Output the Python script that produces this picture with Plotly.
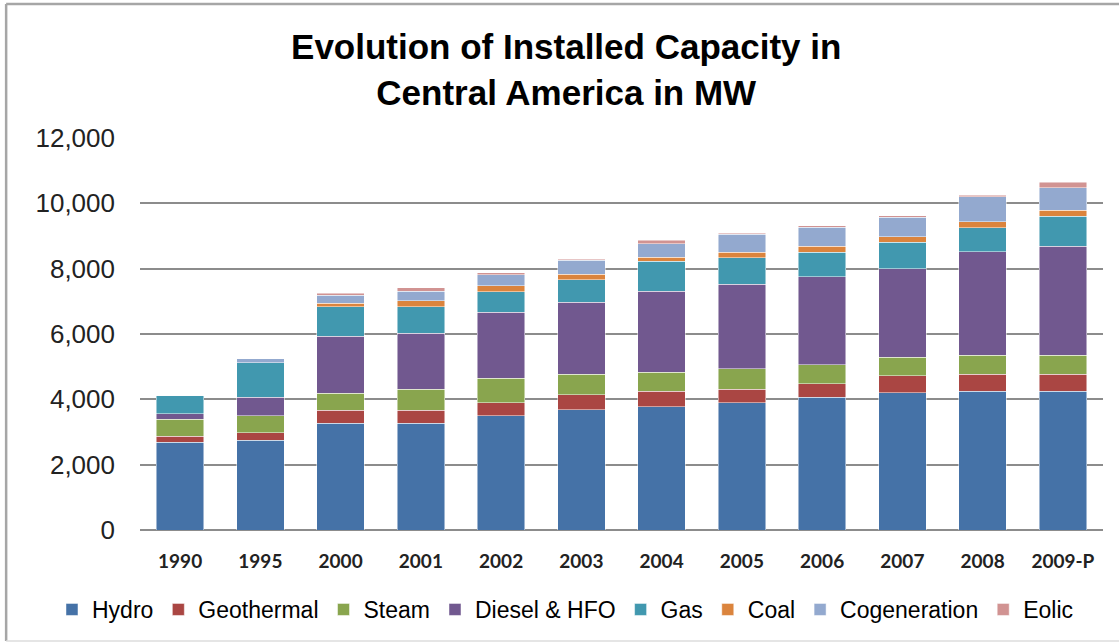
import plotly.graph_objects as go

years = ["1990", "1995", "2000", "2001", "2002", "2003", "2004", "2005", "2006", "2007", "2008", "2009-P"]
hydro = [2680, 2745, 3265, 3265, 3500, 3675, 3775, 3895, 4070, 4195, 4245, 4245]
geothermal = [185, 235, 405, 405, 395, 460, 480, 410, 405, 520, 520, 520]
steam = [520, 520, 520, 635, 755, 635, 570, 630, 580, 570, 580, 580]
diesel_hfo = [170, 570, 1735, 1725, 2010, 2195, 2480, 2590, 2705, 2715, 3170, 3345]
gas = [570, 1050, 905, 805, 640, 695, 920, 815, 745, 805, 745, 920]
coal = [0, 0, 115, 185, 175, 175, 125, 170, 175, 175, 175, 175]
cogeneration = [0, 115, 245, 285, 345, 420, 415, 540, 590, 595, 765, 690]
eolic = [0, 0, 50, 110, 50, 40, 105, 40, 40, 40, 50, 175]

series = [
    ("Hydro", hydro, "#4572A7"),
    ("Geothermal", geothermal, "#AA4643"),
    ("Steam", steam, "#89A54E"),
    ("Diesel & HFO", diesel_hfo, "#71588F"),
    ("Gas", gas, "#4198AF"),
    ("Coal", coal, "#DB843D"),
    ("Cogeneration", cogeneration, "#93A9CF"),
    ("Eolic", eolic, "#D19392"),
]

fig = go.Figure()
for name, vals, col in series:
    fig.add_trace(go.Bar(x=years, y=vals, name=name,
                         marker=dict(color=col, line=dict(color="rgba(255,255,255,0.6)", width=0.8))))

fig.update_layout(
    barmode="stack",
    bargap=0.41,
    width=1119, height=644,
    margin=dict(l=140, r=16, t=138, b=114, autoexpand=False),
    paper_bgcolor="white", plot_bgcolor="white",
    title=dict(text="Evolution of Installed Capacity in<br>Central America in MW",
               x=0.506, xref="container", y=0.908, yref="container", yanchor="middle",
               font=dict(family="Liberation Sans", size=35, color="black", weight="bold")),
    legend=dict(orientation="h", x=-0.0914, xanchor="left", y=-0.148, yanchor="top",
                font=dict(family="Liberation Sans", size=23, color="black"),
                traceorder="normal"),
    showlegend=True,
)
fig.update_xaxes(showgrid=False, showline=False, ticks="",
                 tickfont=dict(family="Lato", size=19, color="#222", weight="bold"),
                 ticklabelstandoff=18)
fig.update_yaxes(range=[0, 12000], dtick=2000, tickformat=",d",
                 showgrid=True, gridcolor="#8c8c8c", gridwidth=1.5,
                 zeroline=True, zerolinecolor="#8c8c8c", zerolinewidth=1.5,
                 showline=False, ticks="",
                 tickfont=dict(family="Liberation Sans", size=26, color="#222"),
                 ticklabelstandoff=24)

# outer chart frame: top, left and a faint bottom edge (no right edge in the original)
frame = dict(type="line", xref="paper", yref="paper", layer="below")
fig.add_shape(**frame, x0=-0.139, x1=1.05, y0=1.342, y1=1.342, line=dict(color="#a6a6a6", width=2.5))
fig.add_shape(**frame, x0=-0.139, x1=-0.139, y0=-0.283, y1=1.342, line=dict(color="#a6a6a6", width=2.5))
fig.add_shape(**frame, x0=-0.139, x1=1.05, y0=-0.283, y1=-0.283, line=dict(color="#dddddd", width=1.5))

# drop the default page margin so the figure sits at the window corner
fig.write_html("out.html", config={"displayModeBar": False},
               post_script="document.body.style.margin='0';")
